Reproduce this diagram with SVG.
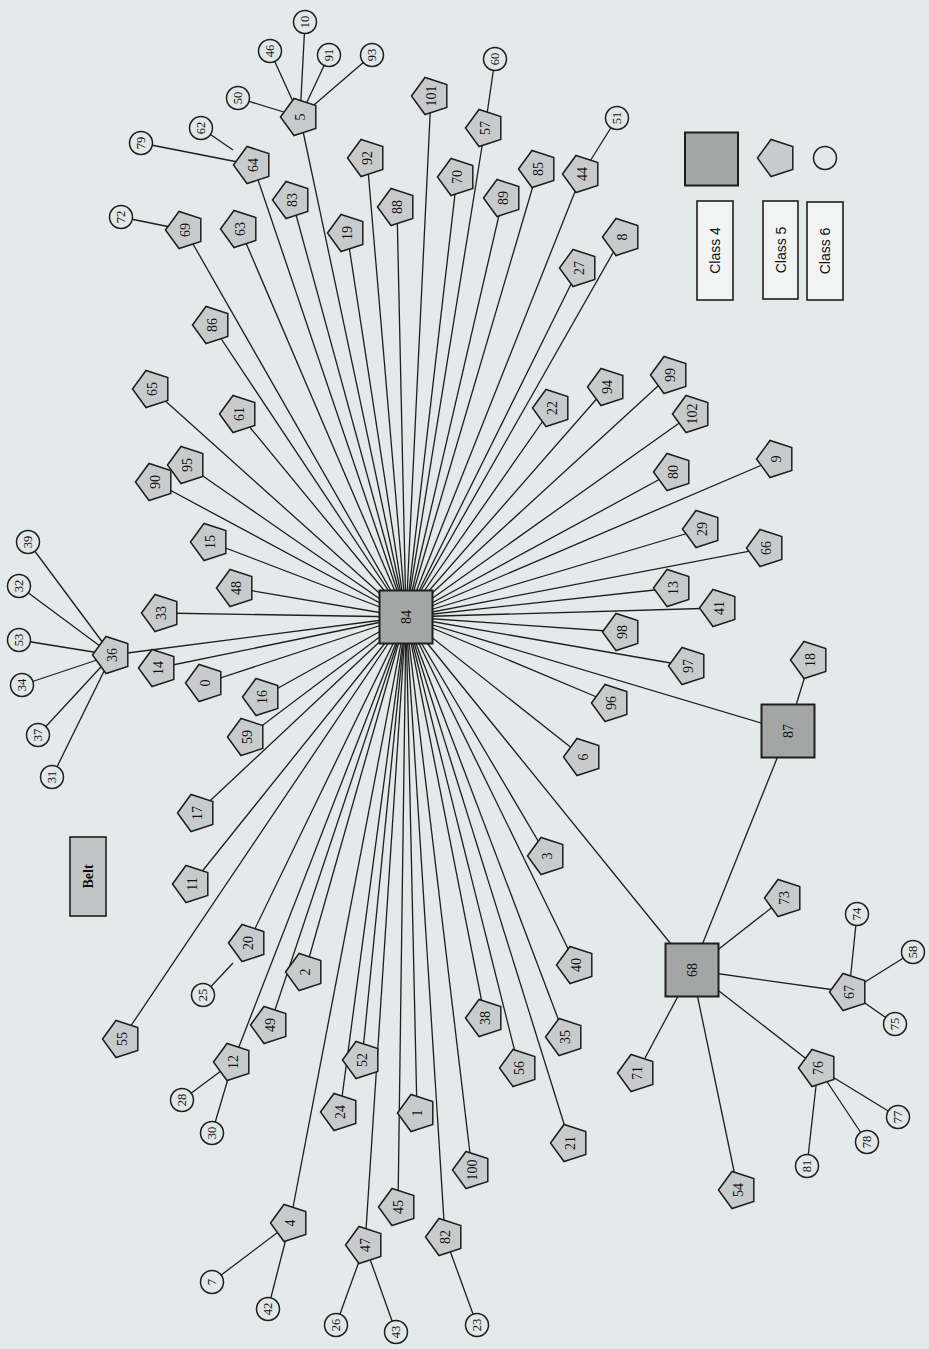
<svg xmlns="http://www.w3.org/2000/svg" xmlns:xlink="http://www.w3.org/1999/xlink" width="929" height="1349" viewBox="0 0 929 1349">
<style>
.e{stroke:#1e1e1e;stroke-width:1.3;fill:none}
.p{fill:#c8cbcc;stroke:#1e1e1e;stroke-width:1.5}
.c{fill:#e2e7e8;stroke:#1e1e1e;stroke-width:1.5}
.s{fill:#a4a6a6;stroke:#1e1e1e;stroke-width:2}
.b{fill:#f2f4f4;stroke:#1e1e1e;stroke-width:1.6}
.t{font-family:"Liberation Serif",serif;font-size:14px;fill:#111;text-anchor:middle;dominant-baseline:central}
.tc{font-family:"Liberation Serif",serif;font-size:12.5px;fill:#111;text-anchor:middle;dominant-baseline:central}
.tl{font-family:"Liberation Sans",Arial,sans-serif;font-size:14px;fill:#111;text-anchor:middle;dominant-baseline:central}
</style>
<defs>
<polygon id="pent" class="p" points="-19.5,0 -6,-18.5 15.8,-11.5 15.8,11.5 -6,18.5"/>
<circle id="circ" class="c" r="11.5"/>
<rect id="sq" class="s" x="-26.5" y="-26.5" width="53" height="53"/>
</defs>
<rect width="929" height="1349" fill="#e4e9ea"/>
<g id="edges" class="e">
<line x1="406" y1="617" x2="300" y2="117"/>
<line x1="406" y1="617" x2="253" y2="165"/>
<line x1="406" y1="617" x2="185" y2="230"/>
<line x1="406" y1="617" x2="240" y2="229"/>
<line x1="406" y1="617" x2="292" y2="200"/>
<line x1="406" y1="617" x2="212" y2="325"/>
<line x1="406" y1="617" x2="367" y2="158"/>
<line x1="406" y1="617" x2="347" y2="233"/>
<line x1="406" y1="617" x2="397" y2="207"/>
<line x1="406" y1="617" x2="431" y2="96"/>
<line x1="406" y1="617" x2="457" y2="177"/>
<line x1="406" y1="617" x2="485" y2="128"/>
<line x1="406" y1="617" x2="503" y2="198"/>
<line x1="406" y1="617" x2="538" y2="169"/>
<line x1="406" y1="617" x2="582" y2="174"/>
<line x1="406" y1="617" x2="579" y2="268"/>
<line x1="406" y1="617" x2="622" y2="237"/>
<line x1="406" y1="617" x2="152" y2="389"/>
<line x1="406" y1="617" x2="239" y2="414"/>
<line x1="406" y1="617" x2="187" y2="465"/>
<line x1="406" y1="617" x2="155" y2="482"/>
<line x1="406" y1="617" x2="210" y2="542"/>
<line x1="406" y1="617" x2="236" y2="588"/>
<line x1="406" y1="617" x2="161" y2="613"/>
<line x1="406" y1="617" x2="112" y2="655"/>
<line x1="406" y1="617" x2="158" y2="668"/>
<line x1="406" y1="617" x2="205" y2="683"/>
<line x1="406" y1="617" x2="262" y2="697"/>
<line x1="406" y1="617" x2="247" y2="737"/>
<line x1="406" y1="617" x2="197" y2="813"/>
<line x1="406" y1="617" x2="192" y2="884"/>
<line x1="406" y1="617" x2="248" y2="943"/>
<line x1="406" y1="617" x2="122" y2="1039"/>
<line x1="406" y1="617" x2="305" y2="972"/>
<line x1="406" y1="617" x2="270" y2="1025"/>
<line x1="406" y1="617" x2="233" y2="1062"/>
<line x1="406" y1="617" x2="290" y2="1223"/>
<line x1="406" y1="617" x2="362" y2="1060"/>
<line x1="406" y1="617" x2="340" y2="1112"/>
<line x1="406" y1="617" x2="417" y2="1113"/>
<line x1="406" y1="617" x2="472" y2="1170"/>
<line x1="406" y1="617" x2="398" y2="1207"/>
<line x1="406" y1="617" x2="365" y2="1245"/>
<line x1="406" y1="617" x2="445" y2="1237"/>
<line x1="406" y1="617" x2="485" y2="1018"/>
<line x1="406" y1="617" x2="519" y2="1068"/>
<line x1="406" y1="617" x2="565" y2="1037"/>
<line x1="406" y1="617" x2="570" y2="1143"/>
<line x1="406" y1="617" x2="611" y2="703"/>
<line x1="406" y1="617" x2="583" y2="757"/>
<line x1="406" y1="617" x2="547" y2="856"/>
<line x1="406" y1="617" x2="576" y2="965"/>
<line x1="406" y1="617" x2="552" y2="408"/>
<line x1="406" y1="617" x2="607" y2="387"/>
<line x1="406" y1="617" x2="670" y2="375"/>
<line x1="406" y1="617" x2="692" y2="414"/>
<line x1="406" y1="617" x2="673" y2="472"/>
<line x1="406" y1="617" x2="776" y2="459"/>
<line x1="406" y1="617" x2="702" y2="529"/>
<line x1="406" y1="617" x2="766" y2="548"/>
<line x1="406" y1="617" x2="673" y2="588"/>
<line x1="406" y1="617" x2="719" y2="608"/>
<line x1="406" y1="617" x2="622" y2="632"/>
<line x1="406" y1="617" x2="688" y2="666"/>
<line x1="406" y1="617" x2="788" y2="731"/>
<line x1="406" y1="617" x2="692" y2="970"/>
<line x1="788" y1="731" x2="692" y2="970"/>
<line x1="788" y1="731" x2="810" y2="660"/>
<line x1="692" y1="970" x2="784" y2="898"/>
<line x1="692" y1="970" x2="849" y2="992"/>
<line x1="692" y1="970" x2="637" y2="1073"/>
<line x1="692" y1="970" x2="738" y2="1190"/>
<line x1="692" y1="970" x2="818" y2="1068"/>
<line x1="849" y1="992" x2="857" y2="914"/>
<line x1="849" y1="992" x2="913" y2="952"/>
<line x1="849" y1="992" x2="895" y2="1024"/>
<line x1="818" y1="1068" x2="898" y2="1117"/>
<line x1="818" y1="1068" x2="867" y2="1142"/>
<line x1="818" y1="1068" x2="807" y2="1166"/>
<line x1="300" y1="117" x2="305" y2="22"/>
<line x1="300" y1="117" x2="270" y2="51"/>
<line x1="300" y1="117" x2="238" y2="98"/>
<line x1="300" y1="117" x2="329" y2="55"/>
<line x1="300" y1="117" x2="372" y2="55"/>
<line x1="233" y1="150" x2="201" y2="128"/>
<line x1="253" y1="165" x2="141" y2="143"/>
<line x1="185" y1="230" x2="121" y2="217"/>
<line x1="485" y1="128" x2="495" y2="59"/>
<line x1="582" y1="174" x2="617" y2="118"/>
<line x1="112" y1="655" x2="28" y2="542"/>
<line x1="112" y1="655" x2="19" y2="586"/>
<line x1="112" y1="655" x2="19" y2="640"/>
<line x1="112" y1="655" x2="22" y2="685"/>
<line x1="112" y1="655" x2="38" y2="735"/>
<line x1="112" y1="655" x2="52" y2="777"/>
<line x1="233" y1="963" x2="203" y2="995"/>
<line x1="233" y1="1062" x2="182" y2="1100"/>
<line x1="233" y1="1062" x2="212" y2="1133"/>
<line x1="290" y1="1223" x2="212" y2="1282"/>
<line x1="290" y1="1223" x2="268" y2="1309"/>
<line x1="365" y1="1245" x2="336" y2="1325"/>
<line x1="365" y1="1245" x2="396" y2="1332"/>
<line x1="445" y1="1237" x2="477" y2="1325"/>
</g>
<g id="n84" transform="translate(406,617)"><use href="#sq"/><text class="t" transform="rotate(-90)">84</text></g>
<g id="n87" transform="translate(788,731)"><use href="#sq"/><text class="t" transform="rotate(-90)">87</text></g>
<g id="n68" transform="translate(692,970)"><use href="#sq"/><text class="t" transform="rotate(-90)">68</text></g>
<g id="n5" transform="translate(300,117)"><use href="#pent"/><text class="t" transform="rotate(-90)">5</text></g>
<g id="n64" transform="translate(253,165)"><use href="#pent"/><text class="t" transform="rotate(-90)">64</text></g>
<g id="n69" transform="translate(185,230)"><use href="#pent"/><text class="t" transform="rotate(-90)">69</text></g>
<g id="n63" transform="translate(240,229)"><use href="#pent"/><text class="t" transform="rotate(-90)">63</text></g>
<g id="n83" transform="translate(292,200)"><use href="#pent"/><text class="t" transform="rotate(-90)">83</text></g>
<g id="n86" transform="translate(212,325)"><use href="#pent"/><text class="t" transform="rotate(-90)">86</text></g>
<g id="n92" transform="translate(367,158)"><use href="#pent"/><text class="t" transform="rotate(-90)">92</text></g>
<g id="n19" transform="translate(347,233)"><use href="#pent"/><text class="t" transform="rotate(-90)">19</text></g>
<g id="n88" transform="translate(397,207)"><use href="#pent"/><text class="t" transform="rotate(-90)">88</text></g>
<g id="n101" transform="translate(431,96)"><use href="#pent"/><text class="t" transform="rotate(-90)">101</text></g>
<g id="n70" transform="translate(457,177)"><use href="#pent"/><text class="t" transform="rotate(-90)">70</text></g>
<g id="n57" transform="translate(485,128)"><use href="#pent"/><text class="t" transform="rotate(-90)">57</text></g>
<g id="n89" transform="translate(503,198)"><use href="#pent"/><text class="t" transform="rotate(-90)">89</text></g>
<g id="n85" transform="translate(538,169)"><use href="#pent"/><text class="t" transform="rotate(-90)">85</text></g>
<g id="n44" transform="translate(582,174)"><use href="#pent"/><text class="t" transform="rotate(-90)">44</text></g>
<g id="n27" transform="translate(579,268)"><use href="#pent"/><text class="t" transform="rotate(-90)">27</text></g>
<g id="n8" transform="translate(622,237)"><use href="#pent"/><text class="t" transform="rotate(-90)">8</text></g>
<g id="n65" transform="translate(152,389)"><use href="#pent"/><text class="t" transform="rotate(-90)">65</text></g>
<g id="n61" transform="translate(239,414)"><use href="#pent"/><text class="t" transform="rotate(-90)">61</text></g>
<g id="n95" transform="translate(187,465)"><use href="#pent"/><text class="t" transform="rotate(-90)">95</text></g>
<g id="n90" transform="translate(155,482)"><use href="#pent"/><text class="t" transform="rotate(-90)">90</text></g>
<g id="n15" transform="translate(210,542)"><use href="#pent"/><text class="t" transform="rotate(-90)">15</text></g>
<g id="n48" transform="translate(236,588)"><use href="#pent"/><text class="t" transform="rotate(-90)">48</text></g>
<g id="n33" transform="translate(161,613)"><use href="#pent"/><text class="t" transform="rotate(-90)">33</text></g>
<g id="n36" transform="translate(112,655)"><use href="#pent"/><text class="t" transform="rotate(-90)">36</text></g>
<g id="n14" transform="translate(158,668)"><use href="#pent"/><text class="t" transform="rotate(-90)">14</text></g>
<g id="n0" transform="translate(205,683)"><use href="#pent"/><text class="t" transform="rotate(-90)">0</text></g>
<g id="n16" transform="translate(262,697)"><use href="#pent"/><text class="t" transform="rotate(-90)">16</text></g>
<g id="n59" transform="translate(247,737)"><use href="#pent"/><text class="t" transform="rotate(-90)">59</text></g>
<g id="n17" transform="translate(197,813)"><use href="#pent"/><text class="t" transform="rotate(-90)">17</text></g>
<g id="n11" transform="translate(192,884)"><use href="#pent"/><text class="t" transform="rotate(-90)">11</text></g>
<g id="n20" transform="translate(248,943)"><use href="#pent"/><text class="t" transform="rotate(-90)">20</text></g>
<g id="n2" transform="translate(305,972)"><use href="#pent"/><text class="t" transform="rotate(-90)">2</text></g>
<g id="n55" transform="translate(122,1039)"><use href="#pent"/><text class="t" transform="rotate(-90)">55</text></g>
<g id="n49" transform="translate(270,1025)"><use href="#pent"/><text class="t" transform="rotate(-90)">49</text></g>
<g id="n12" transform="translate(233,1062)"><use href="#pent"/><text class="t" transform="rotate(-90)">12</text></g>
<g id="n4" transform="translate(290,1223)"><use href="#pent"/><text class="t" transform="rotate(-90)">4</text></g>
<g id="n52" transform="translate(362,1060)"><use href="#pent"/><text class="t" transform="rotate(-90)">52</text></g>
<g id="n24" transform="translate(340,1112)"><use href="#pent"/><text class="t" transform="rotate(-90)">24</text></g>
<g id="n1" transform="translate(417,1113)"><use href="#pent"/><text class="t" transform="rotate(-90)">1</text></g>
<g id="n100" transform="translate(472,1170)"><use href="#pent"/><text class="t" transform="rotate(-90)">100</text></g>
<g id="n45" transform="translate(398,1207)"><use href="#pent"/><text class="t" transform="rotate(-90)">45</text></g>
<g id="n47" transform="translate(365,1245)"><use href="#pent"/><text class="t" transform="rotate(-90)">47</text></g>
<g id="n82" transform="translate(445,1237)"><use href="#pent"/><text class="t" transform="rotate(-90)">82</text></g>
<g id="n38" transform="translate(485,1018)"><use href="#pent"/><text class="t" transform="rotate(-90)">38</text></g>
<g id="n56" transform="translate(519,1068)"><use href="#pent"/><text class="t" transform="rotate(-90)">56</text></g>
<g id="n35" transform="translate(565,1037)"><use href="#pent"/><text class="t" transform="rotate(-90)">35</text></g>
<g id="n21" transform="translate(570,1143)"><use href="#pent"/><text class="t" transform="rotate(-90)">21</text></g>
<g id="n96" transform="translate(611,703)"><use href="#pent"/><text class="t" transform="rotate(-90)">96</text></g>
<g id="n6" transform="translate(583,757)"><use href="#pent"/><text class="t" transform="rotate(-90)">6</text></g>
<g id="n3" transform="translate(547,856)"><use href="#pent"/><text class="t" transform="rotate(-90)">3</text></g>
<g id="n40" transform="translate(576,965)"><use href="#pent"/><text class="t" transform="rotate(-90)">40</text></g>
<g id="n22" transform="translate(552,408)"><use href="#pent"/><text class="t" transform="rotate(-90)">22</text></g>
<g id="n94" transform="translate(607,387)"><use href="#pent"/><text class="t" transform="rotate(-90)">94</text></g>
<g id="n99" transform="translate(670,375)"><use href="#pent"/><text class="t" transform="rotate(-90)">99</text></g>
<g id="n102" transform="translate(692,414)"><use href="#pent"/><text class="t" transform="rotate(-90)">102</text></g>
<g id="n80" transform="translate(673,472)"><use href="#pent"/><text class="t" transform="rotate(-90)">80</text></g>
<g id="n9" transform="translate(776,459)"><use href="#pent"/><text class="t" transform="rotate(-90)">9</text></g>
<g id="n29" transform="translate(702,529)"><use href="#pent"/><text class="t" transform="rotate(-90)">29</text></g>
<g id="n66" transform="translate(766,548)"><use href="#pent"/><text class="t" transform="rotate(-90)">66</text></g>
<g id="n13" transform="translate(673,588)"><use href="#pent"/><text class="t" transform="rotate(-90)">13</text></g>
<g id="n41" transform="translate(719,608)"><use href="#pent"/><text class="t" transform="rotate(-90)">41</text></g>
<g id="n98" transform="translate(622,632)"><use href="#pent"/><text class="t" transform="rotate(-90)">98</text></g>
<g id="n97" transform="translate(688,666)"><use href="#pent"/><text class="t" transform="rotate(-90)">97</text></g>
<g id="n18" transform="translate(810,660)"><use href="#pent"/><text class="t" transform="rotate(-90)">18</text></g>
<g id="n73" transform="translate(784,898)"><use href="#pent"/><text class="t" transform="rotate(-90)">73</text></g>
<g id="n67" transform="translate(849,992)"><use href="#pent"/><text class="t" transform="rotate(-90)">67</text></g>
<g id="n76" transform="translate(818,1068)"><use href="#pent"/><text class="t" transform="rotate(-90)">76</text></g>
<g id="n71" transform="translate(637,1073)"><use href="#pent"/><text class="t" transform="rotate(-90)">71</text></g>
<g id="n54" transform="translate(738,1190)"><use href="#pent"/><text class="t" transform="rotate(-90)">54</text></g>
<g id="n10" transform="translate(305,22)"><use href="#circ"/><text class="tc" transform="rotate(-90)">10</text></g>
<g id="n46" transform="translate(270,51)"><use href="#circ"/><text class="tc" transform="rotate(-90)">46</text></g>
<g id="n50" transform="translate(238,98)"><use href="#circ"/><text class="tc" transform="rotate(-90)">50</text></g>
<g id="n91" transform="translate(329,55)"><use href="#circ"/><text class="tc" transform="rotate(-90)">91</text></g>
<g id="n93" transform="translate(372,55)"><use href="#circ"/><text class="tc" transform="rotate(-90)">93</text></g>
<g id="n62" transform="translate(201,128)"><use href="#circ"/><text class="tc" transform="rotate(-90)">62</text></g>
<g id="n79" transform="translate(141,143)"><use href="#circ"/><text class="tc" transform="rotate(-90)">79</text></g>
<g id="n72" transform="translate(121,217)"><use href="#circ"/><text class="tc" transform="rotate(-90)">72</text></g>
<g id="n60" transform="translate(495,59)"><use href="#circ"/><text class="tc" transform="rotate(-90)">60</text></g>
<g id="n51" transform="translate(617,118)"><use href="#circ"/><text class="tc" transform="rotate(-90)">51</text></g>
<g id="n39" transform="translate(28,542)"><use href="#circ"/><text class="tc" transform="rotate(-90)">39</text></g>
<g id="n32" transform="translate(19,586)"><use href="#circ"/><text class="tc" transform="rotate(-90)">32</text></g>
<g id="n53" transform="translate(19,640)"><use href="#circ"/><text class="tc" transform="rotate(-90)">53</text></g>
<g id="n34" transform="translate(22,685)"><use href="#circ"/><text class="tc" transform="rotate(-90)">34</text></g>
<g id="n37" transform="translate(38,735)"><use href="#circ"/><text class="tc" transform="rotate(-90)">37</text></g>
<g id="n31" transform="translate(52,777)"><use href="#circ"/><text class="tc" transform="rotate(-90)">31</text></g>
<g id="n25" transform="translate(203,995)"><use href="#circ"/><text class="tc" transform="rotate(-90)">25</text></g>
<g id="n28" transform="translate(182,1100)"><use href="#circ"/><text class="tc" transform="rotate(-90)">28</text></g>
<g id="n30" transform="translate(212,1133)"><use href="#circ"/><text class="tc" transform="rotate(-90)">30</text></g>
<g id="n7" transform="translate(212,1282)"><use href="#circ"/><text class="tc" transform="rotate(-90)">7</text></g>
<g id="n42" transform="translate(268,1309)"><use href="#circ"/><text class="tc" transform="rotate(-90)">42</text></g>
<g id="n26" transform="translate(336,1325)"><use href="#circ"/><text class="tc" transform="rotate(-90)">26</text></g>
<g id="n43" transform="translate(396,1332)"><use href="#circ"/><text class="tc" transform="rotate(-90)">43</text></g>
<g id="n23" transform="translate(477,1325)"><use href="#circ"/><text class="tc" transform="rotate(-90)">23</text></g>
<g id="n74" transform="translate(857,914)"><use href="#circ"/><text class="tc" transform="rotate(-90)">74</text></g>
<g id="n58" transform="translate(913,952)"><use href="#circ"/><text class="tc" transform="rotate(-90)">58</text></g>
<g id="n75" transform="translate(895,1024)"><use href="#circ"/><text class="tc" transform="rotate(-90)">75</text></g>
<g id="n77" transform="translate(898,1117)"><use href="#circ"/><text class="tc" transform="rotate(-90)">77</text></g>
<g id="n78" transform="translate(867,1142)"><use href="#circ"/><text class="tc" transform="rotate(-90)">78</text></g>
<g id="n81" transform="translate(807,1166)"><use href="#circ"/><text class="tc" transform="rotate(-90)">81</text></g>
<g id="belt"><rect x="70" y="837" width="36" height="79" fill="#c3c6c7" stroke="#1e1e1e" stroke-width="1.6"/><text class="t" font-weight="bold" transform="translate(88,876.5) rotate(-90)">Belt</text></g>
<g id="legend">
<use href="#sq" transform="translate(711.5,159)"/>
<use href="#pent" transform="translate(777,158)"/>
<use href="#circ" transform="translate(825,158)"/>
<rect class="b" x="697" y="201" width="36" height="99"/>
<text class="tl" transform="translate(715,250.5) rotate(-90)">Class 4</text>
<rect class="b" x="763" y="201" width="35" height="98"/>
<text class="tl" transform="translate(780.5,250) rotate(-90)">Class 5</text>
<rect class="b" x="807" y="202" width="36" height="98"/>
<text class="tl" transform="translate(825,251) rotate(-90)">Class 6</text>
</g>
</svg>
